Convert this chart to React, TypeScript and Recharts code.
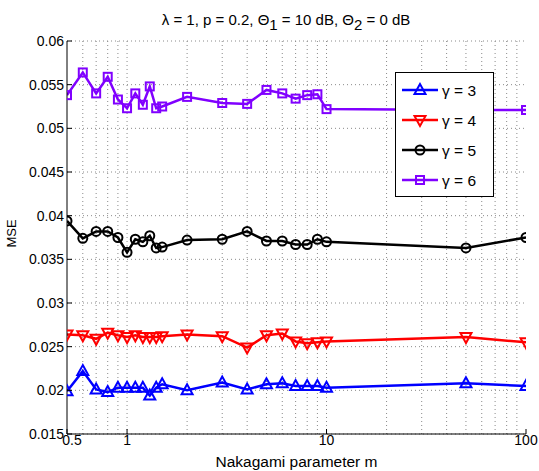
import React from "react";
import {
  LineChart,
  Line,
  XAxis,
  YAxis,
  CartesianGrid,
  ReferenceLine,
  Legend,
} from "recharts";

const mValues = [0.5, 0.6, 0.7, 0.8, 0.9, 1, 1.1, 1.2, 1.3, 1.4, 1.5, 2, 3, 4, 5, 6, 7, 8, 9, 10, 50, 100];
const gamma3 = [0.0199, 0.0222, 0.0201, 0.0198, 0.0203, 0.0203, 0.0203, 0.0203, 0.0194, 0.0203, 0.0207, 0.02, 0.0209, 0.0201, 0.0207, 0.0208, 0.0205, 0.0205, 0.0205, 0.0203, 0.0208, 0.0205];
const gamma4 = [0.0264, 0.0263, 0.0259, 0.0266, 0.0263, 0.0261, 0.0263, 0.0261, 0.0261, 0.0261, 0.0262, 0.0264, 0.0262, 0.0249, 0.0263, 0.0265, 0.0256, 0.0254, 0.0255, 0.0256, 0.0261, 0.0255];
const gamma5 = [0.0394, 0.0374, 0.0382, 0.0382, 0.0375, 0.0358, 0.0373, 0.037, 0.0377, 0.0363, 0.0364, 0.0372, 0.0373, 0.0382, 0.0371, 0.0371, 0.0367, 0.0367, 0.0373, 0.037, 0.0363, 0.0375];
const gamma6 = [0.0538, 0.0564, 0.054, 0.0559, 0.0533, 0.0523, 0.054, 0.0527, 0.0548, 0.0523, 0.0525, 0.0536, 0.0529, 0.0528, 0.0544, 0.054, 0.0534, 0.0538, 0.0539, 0.0522, 0.0521, 0.0521];

const xTicks = [0.5, 1, 10, 100];
const xGrid = [0.6, 0.7, 0.8, 0.9, 1, 2, 3, 4, 5, 6, 7, 8, 9, 10, 20, 30, 40, 50, 60, 70, 80, 90];
const yTicks = [0.015, 0.02, 0.025, 0.03, 0.035, 0.04, 0.045, 0.05, 0.055, 0.06];

const data = mValues.map((m, i) => ({
  m,
  g3: gamma3[i],
  g4: gamma4[i],
  g5: gamma5[i],
  g6: gamma6[i],
}));

const FONT = "'Liberation Sans', Arial, Helvetica, sans-serif";
const BLUE = "#0000ff";
const RED = "#ff0000";
const BLACK = "#000000";
const PURPLE = "#8000ff";

const series = [
  { key: "g3", color: BLUE, label: "3", marker: "up" },
  { key: "g4", color: RED, label: "4", marker: "down" },
  { key: "g5", color: BLACK, label: "5", marker: "circle" },
  { key: "g6", color: PURPLE, label: "6", marker: "square" },
];

function Marker({ type, cx, cy, color }: any) {
  if (type === "up")
    return (
      <polygon
        points={`${cx},${cy - 6} ${cx - 5.5},${cy + 4} ${cx + 5.5},${cy + 4}`}
        fill="none"
        stroke={color}
        strokeWidth={2}
      />
    );
  if (type === "down")
    return (
      <polygon
        points={`${cx},${cy + 6} ${cx - 5.5},${cy - 4} ${cx + 5.5},${cy - 4}`}
        fill="none"
        stroke={color}
        strokeWidth={2}
      />
    );
  if (type === "circle")
    return <circle cx={cx} cy={cy} r={4.5} fill="none" stroke={color} strokeWidth={2} />;
  return <rect x={cx - 4} y={cy - 4} width={8} height={8} fill="none" stroke={color} strokeWidth={2} />;
}

const fmt = (v: number) => String(Number(v.toFixed(3)));

function renderLegend() {
  return (
    <svg width={99} height={125} style={{ display: "block" }}>
      <rect x={0.5} y={0.5} width={98} height={124} fill="#fff" stroke="#000" strokeWidth={1} />
      {series.map((s, i) => {
        const y = 18 + i * 30;
        return (
          <g key={s.key}>
            <line x1={7} x2={43} y1={y} y2={y} stroke={s.color} strokeWidth={2.5} />
            <Marker type={s.marker} cx={25} cy={y} color={s.color} />
            <text x={47} y={y + 5.5} fontSize={15.5} fontFamily={FONT} fill="#000">
              {`γ = ${s.label}`}
            </text>
          </g>
        );
      })}
    </svg>
  );
}

export default function App() {
  return (
    <div style={{ position: "absolute", left: 0, top: 0, width: 539, height: 471, background: "#fff", fontFamily: FONT }}>
      <svg width={539} height={40} style={{ position: "absolute", left: 0, top: 0 }}>
        <text x={286} y={25} textAnchor="middle" fontSize={15} fontFamily={FONT} fill="#000">
          λ = 1, p = 0.2, Θ<tspan dy={5}>1</tspan>
          <tspan dy={-5}> = 10 dB, Θ</tspan>
          <tspan dy={5}>2</tspan>
          <tspan dy={-5}> = 0 dB</tspan>
        </text>
      </svg>
      <LineChart
        width={539}
        height={471}
        data={data}
        margin={{ top: 41, right: 13, bottom: 0, left: 7 }}
      >
        <CartesianGrid vertical={false} stroke="#8a8a8a" strokeDasharray="1 3" />
        {xGrid.map((v) => (
          <ReferenceLine key={"gx" + v} x={v} stroke="#8a8a8a" strokeDasharray="1 3" />
        ))}
        <XAxis
          dataKey="m"
          type="number"
          scale="log"
          domain={[0.5, 100]}
          allowDataOverflow
          ticks={xTicks}
          height={37}
          tickSize={0}
          tickMargin={1}
          tickLine={false}
          axisLine={{ stroke: "#000", strokeWidth: 1 }}
          tick={(p: any) => (
            <g key={"xb" + p.index}>
              <line x1={p.x} x2={p.x} y1={p.y - 1} y2={p.y - 6} stroke="#000" />
              <text
                x={p.x + (p.index === 0 ? 5 : 0)}
                y={p.y + 10}
                textAnchor="middle"
                fontSize={14}
                fontFamily={FONT}
                fill="#000"
              >
                {fmt(p.payload.value)}
              </text>
            </g>
          )}
          label={{ value: "Nakagami parameter m", position: "insideBottom", offset: 4, fontSize: 15.5, fontFamily: FONT, fill: "#000" }}
        />
        <XAxis
          xAxisId="top"
          dataKey="m"
          type="number"
          scale="log"
          orientation="top"
          domain={[0.5, 100]}
          allowDataOverflow
          ticks={xTicks}
          height={0}
          tickSize={0}
          tickMargin={0}
          tickLine={false}
          axisLine={{ stroke: "#000", strokeWidth: 1 }}
          tick={(p: any) => (
            <line key={"xt" + p.index} x1={p.x} x2={p.x} y1={p.y} y2={p.y + 5} stroke="#000" />
          )}
        />
        <YAxis
          type="number"
          domain={[0.015, 0.06]}
          allowDataOverflow
          ticks={yTicks}
          width={60}
          tickSize={0}
          tickMargin={3}
          tickLine={false}
          axisLine={{ stroke: "#000", strokeWidth: 1 }}
          tick={(p: any) => (
            <g key={"yl" + p.index}>
              <line x1={p.x + 3} x2={p.x + 8} y1={p.y} y2={p.y} stroke="#000" />
              <text x={p.x} y={p.y + 5} textAnchor="end" fontSize={14} fontFamily={FONT} fill="#000">
                {fmt(p.payload.value)}
              </text>
            </g>
          )}
          label={{
            content: (p: any) => {
              const vb = p.viewBox;
              const x = vb.x + 8.7;
              const y = vb.y + vb.height / 2 - 4;
              return (
                <text x={x} y={y} transform={`rotate(-90 ${x} ${y})`} textAnchor="middle" fontSize={13} fontFamily={FONT} fill="#000">
                  MSE
                </text>
              );
            },
          }}
        />
        <YAxis
          yAxisId="right"
          orientation="right"
          type="number"
          domain={[0.015, 0.06]}
          allowDataOverflow
          ticks={yTicks}
          width={0}
          tickSize={0}
          tickMargin={0}
          tickLine={false}
          axisLine={{ stroke: "#000", strokeWidth: 1 }}
          tick={(p: any) => (
            <line key={"yr" + p.index} x1={p.x} x2={p.x - 5} y1={p.y} y2={p.y} stroke="#000" />
          )}
        />
        {series.map((s) => (
          <Line
            key={s.key}
            dataKey={s.key}
            stroke={s.color}
            strokeWidth={2.5}
            isAnimationActive={false}
            dot={(p: any) => <Marker key={s.key + p.index} type={s.marker} cx={p.cx} cy={p.cy} color={s.color} />}
            activeDot={false}
          />
        ))}
        <Legend
          layout="vertical"
          align="center"
          verticalAlign="middle"
          content={renderLegend}
          wrapperStyle={{ left: 395, top: 72, width: 99, height: 125 }}
        />
      </LineChart>
    </div>
  );
}
